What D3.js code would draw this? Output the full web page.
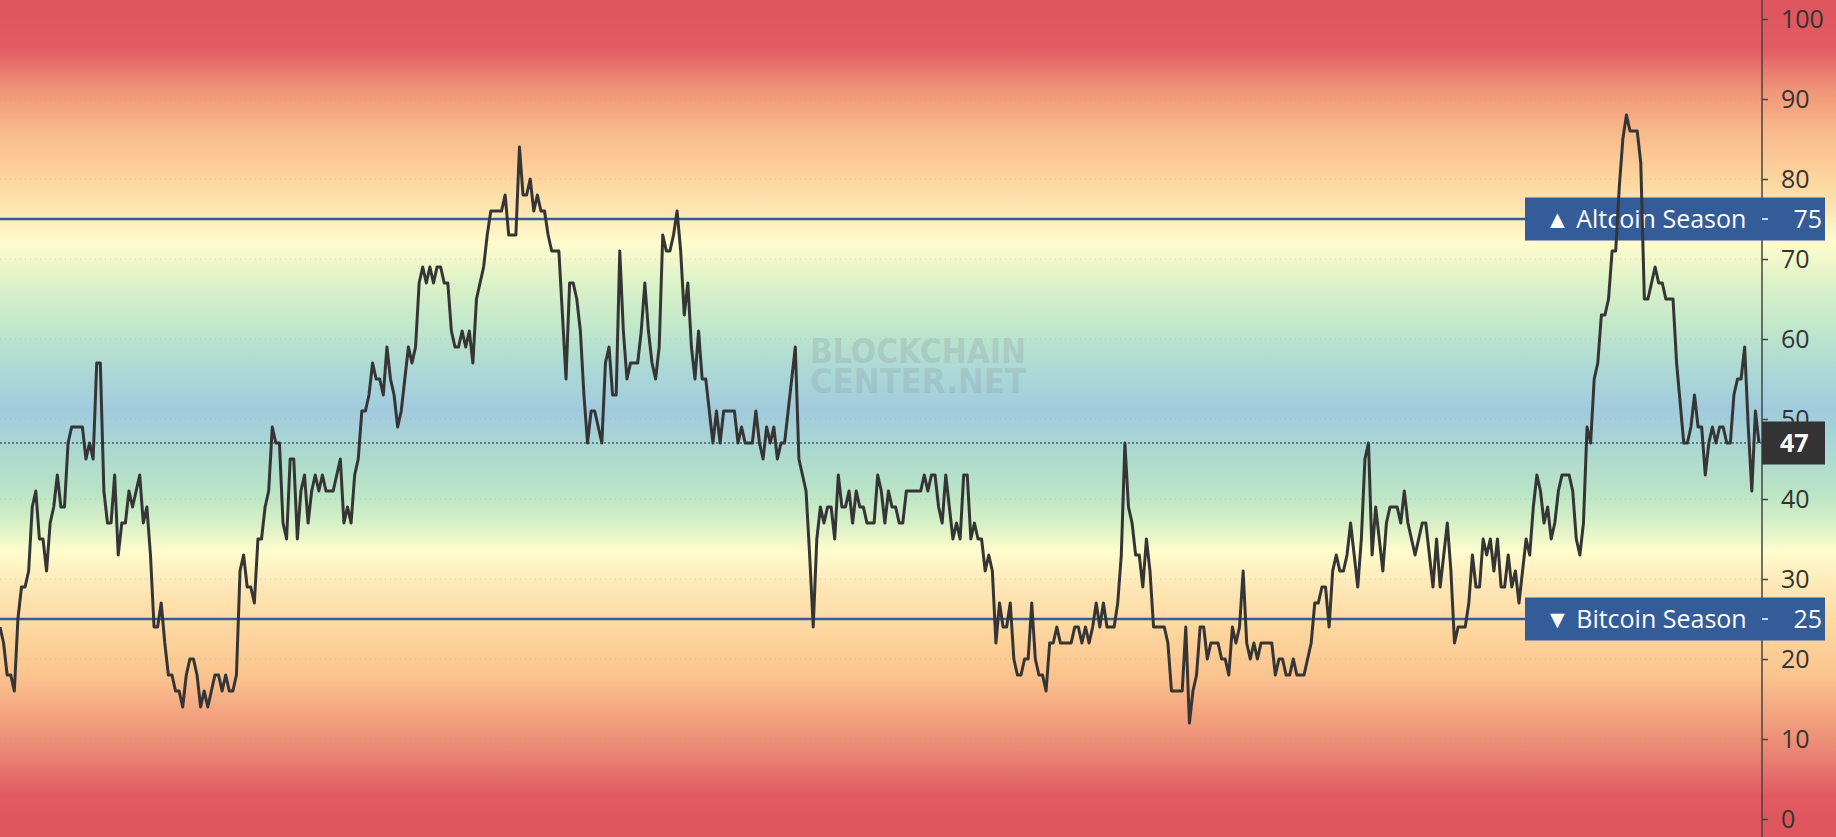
<!DOCTYPE html>
<html>
<head>
<meta charset="utf-8">
<script src="https://cdn.jsdelivr.net/npm/d3@7/dist/d3.min.js"></script>
<style>
  html, body { margin: 0; padding: 0; overflow: hidden; background: #fff; }
  svg { display: block; }
  text { font-family: "Trebuchet MS", "Open Sans", "Noto Sans", sans-serif; }
</style>
</head>
<body>
<svg id="chart" width="1836" height="837"></svg>
<script>
// ---------------- data ----------------
const indexValues = [
  24,22,18,18,16,25,29,29,31,39,41,35,35,31,37,39,43,39,39,47,49,49,49,49,45,47,45,57,57,41,
  37,37,43,33,37,37,41,39,41,43,37,39,33,24,24,27,22,18,18,16,16,14,18,20,20,18,14,16,14,16,
  18,18,16,18,16,16,18,31,33,29,29,27,35,35,39,41,49,47,47,37,35,45,45,35,41,
  43,37,41,43,41,43,41,41,41,43,45,37,39,37,43,45,51,51,53,57,55,55,53,59,55,53,49,51,55,59,
  57,59,67,69,67,69,67,69,69,67,67,61,59,59,61,59,61,57,65,67,69,73,76,76,76,76,78,73,73,73,
  84,78,78,80,76,78,76,76,73,71,71,71,63,55,67,67,65,61,53,47,
  51,51,49,47,57,59,53,53,71,61,55,57,57,57,61,67,61,57,55,59,73,71,71,73,76,71,63,67,59,55,
  61,55,55,51,47,51,47,51,51,51,51,47,49,47,47,47,51,47,45,49,47,49,45,47,47,51,55,59,45,43,
  41,33,24,35,39,37,39,39,35,43,39,39,41,37,41,39,39,37,37,37,43,41,37,
  41,39,39,37,37,41,41,41,41,41,43,41,43,43,39,37,43,39,35,37,35,43,43,35,37,35,35,31,33,31,
  22,27,24,24,27,20,18,18,20,20,27,20,18,18,16,22,22,24,22,22,22,22,24,24,22,24,22,24,27,24,
  27,24,24,24,27,33,47,39,37,33,33,29,35,31,24,24,24,24,22,16,16,16,16,24,
  12,16,18,24,24,20,22,22,22,20,20,18,24,22,24,31,22,20,22,20,22,22,22,22,18,20,20,18,18,20,
  18,18,18,20,22,27,27,29,29,24,31,33,31,31,33,37,33,29,35,45,47,33,39,35,31,37,39,39,39,37,
  41,37,35,33,35,37,37,33,29,35,29,33,37,31,22,24,24,24,27,33,29,29,35,33,
  35,31,35,29,29,33,29,31,27,31,35,33,39,43,41,37,39,35,37,41,43,43,43,41,35,33,37,49,47,55,
  57,63,63,65,71,71,79,85,88,86,86,86,82,65,65,67,69,67,67,65,65,65,57,52,47,47,49,53,49,49,
  43,47,49,47,49,49,47,47,53,55,55,59,49,41,51,47
];
const categories = indexValues.map((_, i) => i);          // day index
const tickValues = [0, 10, 20, 30, 40, 50, 60, 70, 80, 90, 100];
const tickLabels = tickValues.map(String);
const thresholdValues = [75, 25];
const thresholdLabels = ["▲ Altcoin Season", "▼ Bitcoin Season"];
const currentValue = 47;
const watermarkLines = ["BLOCKCHAIN", "CENTER.NET"];

// background colour stops (value -> colour)
const bgStopValues = [100, 96, 91, 86, 80, 76, 72, 67, 62, 56, 51, 46, 41, 37, 33.5, 29, 23, 18, 13, 8, 3, 0];
const bgStopColors = ["#e0565f","#e25e63","#f09679","#f9b98b","#fdd59e","#fee6b4","#fffccd","#dcf2c8",
                      "#c3e8ca","#acd8d6","#a1cbdd","#acd8d2","#b9e4c6","#d6f0c6","#fffccd","#fee7b6",
                      "#fdd49c","#fbc48f","#f3a37f","#ea8374","#e05b61","#e0565f"];

// ---------------- layout ----------------
const W = 1836, H = 837;
const plotRight = 1762;
const svg = d3.select("#chart");

const x = d3.scaleLinear().domain([0, categories.length - 1]).range([0, 1759]);
const y = d3.scaleLinear().domain([0, 100]).range([819, 19]);

// gradient background
const defs = svg.append("defs");
const grad = defs.append("linearGradient")
  .attr("id", "bg").attr("gradientUnits", "userSpaceOnUse")
  .attr("x1", 0).attr("x2", 0).attr("y1", y(100)).attr("y2", y(0));
grad.selectAll("stop").data(bgStopValues).join("stop")
  .attr("offset", d => (100 - d) / 100)
  .attr("stop-color", (d, i) => bgStopColors[i]);
svg.append("rect").attr("width", W).attr("height", H).attr("fill", "url(#bg)");

// faint dotted grid
svg.append("g").selectAll("line").data(tickValues).join("line")
  .attr("x1", 0).attr("x2", plotRight)
  .attr("y1", d => y(d)).attr("y2", d => y(d))
  .attr("stroke", "#7f9a8a").attr("stroke-opacity", 0.3)
  .attr("stroke-width", 1).attr("stroke-dasharray", "1,4");

// watermark
const wm = svg.append("g").attr("fill", "#8ea5a6").attr("fill-opacity", 0.32)
  .attr("font-weight", "bold").attr("font-size", 33);
wm.selectAll("text").data(watermarkLines).join("text")
  .attr("x", 810).attr("y", (d, i) => 363 + i * 30)
  .attr("textLength", 216).attr("lengthAdjust", "spacingAndGlyphs")
  .style("font-family", "'DejaVu Sans', sans-serif")
  .text(d => d);

// threshold lines
svg.append("g").selectAll("line").data(thresholdValues).join("line")
  .attr("x1", 0).attr("x2", 1530)
  .attr("y1", d => y(d)).attr("y2", d => y(d))
  .attr("stroke", "#345c99").attr("stroke-width", 2.5);

// current value dotted line
svg.append("line")
  .attr("x1", 0).attr("x2", plotRight)
  .attr("y1", y(currentValue)).attr("y2", y(currentValue))
  .attr("stroke", "#222").attr("stroke-width", 1).attr("stroke-dasharray", "2,2");

// right axis
const axis = d3.axisRight(y).tickValues(tickValues).tickFormat((d, i) => tickLabels[i])
  .tickSize(6).tickPadding(13);
const gAxis = svg.append("g").attr("transform", `translate(${plotRight},0)`).call(axis);
gAxis.select(".domain").remove();
gAxis.append("line").attr("x1", 0).attr("x2", 0).attr("y1", 0).attr("y2", H)
  .attr("stroke", "#444").attr("stroke-width", 1.5);
gAxis.selectAll(".tick line").attr("stroke", "#444").attr("stroke-width", 1.5);
gAxis.selectAll(".tick text").attr("fill", "#333").attr("font-size", 25)
  .style("font-family", "'Trebuchet MS', 'Open Sans', sans-serif");

// threshold label boxes
const boxes = svg.append("g").selectAll("g").data(thresholdValues).join("g")
  .attr("transform", d => `translate(0,${y(d)})`);
boxes.append("rect").attr("x", 1525).attr("y", -21.5).attr("width", 300).attr("height", 43)
  .attr("fill", "#345c99");
boxes.append("line").attr("x1", plotRight).attr("x2", plotRight + 6).attr("y1", 0).attr("y2", 0)
  .attr("stroke", "#fff").attr("stroke-width", 1.5);
boxes.append("text").attr("x", 1545).attr("y", 0).attr("dy", "0.35em")
  .attr("fill", "#fff").attr("font-size", 25)
  .text((d, i) => thresholdLabels[i]);
boxes.append("text").attr("x", 1822).attr("y", 0).attr("dy", "0.35em")
  .attr("text-anchor", "end").attr("fill", "#fff").attr("font-size", 25)
  .text(d => d);

// current value box
const cur = svg.append("g").attr("transform", `translate(0,${y(currentValue)})`);
cur.append("rect").attr("x", plotRight).attr("y", -21.5).attr("width", 63).attr("height", 43)
  .attr("fill", "#333");
cur.append("text").attr("x", 1780).attr("y", 0).attr("dy", "0.35em")
  .attr("fill", "#fff").attr("font-size", 25).attr("font-weight", "bold")
  .text(currentValue);

// index line
const line = d3.line().x((d, i) => x(categories[i])).y(d => y(d));
svg.append("path").datum(indexValues)
  .attr("d", line).attr("fill", "none")
  .attr("stroke", "#353535").attr("stroke-width", 3)
  .attr("stroke-linejoin", "round");
</script>
</body>
</html>
